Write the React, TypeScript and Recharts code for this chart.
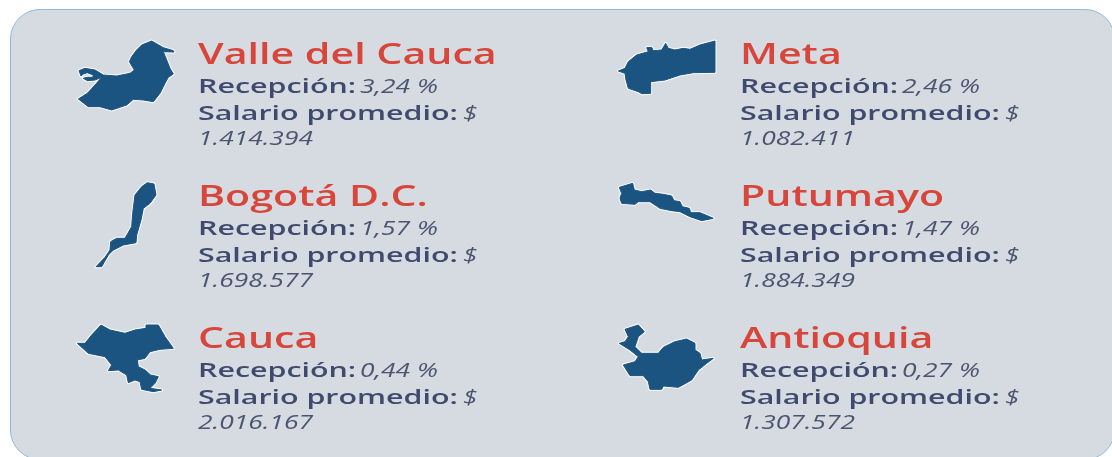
import React from "react";
import { ScatterChart, Scatter, XAxis, YAxis } from "recharts";

const departments = ["Valle del Cauca", "Meta", "Bogotá D.C.", "Putumayo", "Cauca", "Antioquia"];
const reception = [3.24, 2.46, 1.57, 1.47, 0.44, 0.27];
const salary = [1414394, 1082411, 1698577, 1884349, 2016167, 1307572];
const columns = [0, 1, 0, 1, 0, 1];
const rows = [0, 0, 1, 1, 2, 2];

const rowsData = departments.map((name, i) => ({
  name,
  reception: reception[i],
  salary: salary[i],
  col: columns[i],
  row: rows[i],
}));

// Silhouettes, in 3x local units
const OUTLINES: Record<string, { dx: number; dy: number; pts: number[][] }> = {
  "Valle del Cauca": {
    dx: -60, dy: -20,
    pts: [[455,123],[490,143],[520,152],[522,156],[490,155],[500,180],[510,205],[520,222],[505,232],[495,250],[480,280],[460,305],[430,300],[400,298],[380,315],[335,330],[300,320],[265,320],[235,297],[262,280],[285,255],[305,232],[285,240],[262,242],[250,235],[262,232],[278,232],[280,225],[262,218],[250,222],[243,228],[237,212],[255,205],[285,210],[310,225],[350,228],[390,220],[403,210],[388,185],[395,170],[410,150],[425,135]],
  },
  Meta: {
    dx: -2, dy: 0,
    pts: [[345,63],[300,75],[270,88],[250,85],[225,90],[205,85],[197,70],[185,90],[160,92],[155,82],[140,83],[145,95],[110,105],[85,125],[75,145],[55,153],[75,160],[78,180],[85,205],[115,215],[125,221],[152,220],[152,185],[195,180],[240,165],[280,158],[345,157]],
  },
  "Bogotá D.C.": {
    dx: 0, dy: 8,
    pts: [[262,38],[282,42],[288,75],[270,100],[250,115],[243,150],[230,195],[228,218],[190,225],[160,240],[145,255],[125,290],[108,290],[135,262],[150,240],[152,215],[170,205],[195,205],[215,170],[218,130],[225,75],[245,50]],
  },
  Putumayo: {
    dx: -2, dy: 8,
    pts: [[58,52],[98,40],[103,60],[125,65],[152,60],[165,70],[190,73],[215,78],[222,92],[240,95],[247,110],[268,115],[272,128],[300,128],[340,145],[305,152],[270,140],[240,125],[215,122],[180,115],[150,95],[115,95],[105,103],[65,100],[60,85],[65,70]],
  },
  Cauca: {
    dx: 0, dy: 6,
    pts: [[123,45],[150,60],[195,70],[225,60],[258,55],[258,45],[295,45],[315,80],[340,115],[300,118],[270,125],[255,145],[232,150],[235,170],[255,180],[272,195],[295,200],[285,220],[270,235],[305,240],[280,245],[245,238],[240,215],[225,210],[205,218],[200,195],[175,180],[145,182],[155,165],[135,140],[85,130],[52,100],[75,100],[95,75]],
  },
  Antioquia: {
    dx: -2, dy: 6,
    pts: [[75,58],[115,45],[133,65],[115,80],[105,110],[125,130],[175,130],[190,112],[225,95],[260,87],[285,100],[285,120],[300,130],[305,150],[340,145],[320,160],[295,180],[275,210],[235,232],[190,228],[185,238],[150,238],[145,215],[130,197],[90,197],[70,165],[105,155],[115,140],[90,120],[58,100],[75,95],[85,80]],
  },
};

const FONT = "'Open Sans', sans-serif";
const RED = "#d8453a";
const LABEL = "#3f4a6e";
const VALUE = "#4c5570";
const MAP_BLUE = "#1b5480";
const TITLE_STRETCH = 1.47;
const LABEL_STRETCH = 1.52;
const VALUE_STRETCH = 1.32;

const fmtPct = (v: number) => v.toFixed(2).replace(".", ",") + " %";
const fmtSalary = (v: number) => String(v).replace(/\B(?=(\d{3})+(?!\d))/g, ".");

const Stretched = ({ x, y, k, children }: any) => (
  <g transform={`translate(${x},${y}) scale(${k},1)`} fontFamily={FONT}>{children}</g>
);

function Card(props: any) {
  const { cx, cy, payload } = props;
  const o = OUTLINES[payload.name];
  const d = "M" + o.pts.map((p) => p.join(",")).join("L") + "Z";
  const tx = cx + 138;
  const mapTransform = `translate(${cx + o.dx},${cy + o.dy}) scale(${1 / 3})`;
  return (
    <g>
      <g style={{ filter: "blur(0.4px)" }}>
        <path d={d} transform={mapTransform} fill="#ffffff" fillOpacity={0.9} stroke="#ffffff" strokeOpacity={0.9} strokeWidth={9} strokeLinejoin="round" />
        <path d={d} transform={mapTransform} fill={MAP_BLUE} stroke={MAP_BLUE} strokeWidth={3} strokeLinejoin="round" />
      </g>
      <Stretched x={tx} y={cy + 44} k={TITLE_STRETCH}>
        <text fontSize={28} fontWeight={600} fill={RED}>{payload.name}</text>
      </Stretched>
      <Stretched x={tx} y={cy + 73} k={LABEL_STRETCH}>
        <text fontSize={20} fontWeight={600} fill={LABEL}>Recepción:</text>
      </Stretched>
      <Stretched x={tx + 162} y={cy + 73} k={VALUE_STRETCH}>
        <text fontSize={20} fontStyle="italic" fill={VALUE}>{fmtPct(payload.reception)}</text>
      </Stretched>
      <Stretched x={tx} y={cy + 100} k={LABEL_STRETCH}>
        <text fontSize={20} fontWeight={600} fill={LABEL}>Salario promedio:</text>
      </Stretched>
      <Stretched x={tx + 265} y={cy + 100} k={VALUE_STRETCH}>
        <text fontSize={20} fontStyle="italic" fill={VALUE}>$</text>
      </Stretched>
      <Stretched x={tx} y={cy + 125} k={VALUE_STRETCH}>
        <text fontSize={20} fontStyle="italic" fill={VALUE}>{fmtSalary(payload.salary)}</text>
      </Stretched>
    </g>
  );
}

export default function App() {
  return (
    <div style={{ position: "absolute", left: 0, top: 0, width: 1112, height: 457, overflow: "hidden", background: "#fff" }}>
      <div
        style={{
          position: "absolute", left: 10, top: 9, width: 1105, height: 451, boxSizing: "border-box",
          background: "#d5dbe1", border: "1px solid #8dbbd8", borderRadius: 30,
        }}
      />
      <div style={{ position: "absolute", left: 0, top: 0, filter: "blur(0.5px)" }}>
        <ScatterChart width={1112} height={457} margin={{ left: 60, right: 510, top: 20, bottom: 153 }}>
          <XAxis type="number" dataKey="col" domain={[0, 1]} hide />
          <YAxis type="number" dataKey="row" domain={[0, 2]} reversed hide />
          <Scatter data={rowsData} isAnimationActive={false} shape={Card} />
        </ScatterChart>
      </div>
    </div>
  );
}
